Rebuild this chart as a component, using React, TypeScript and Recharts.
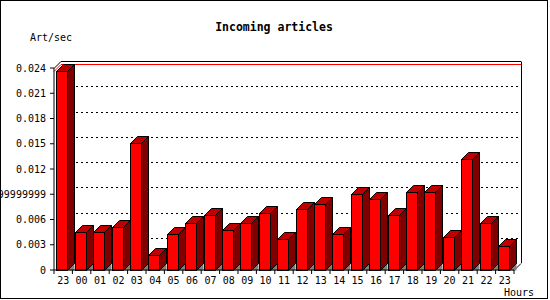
import { Bar, BarChart, CartesianGrid, ReferenceLine, XAxis, YAxis } from "recharts";

const hours = ["23", "00", "01", "02", "03", "04", "05", "06", "07", "08", "09", "10", "11", "12", "13", "14", "15", "16", "17", "18", "19", "20", "21", "22", "23"];
const artPerSec = [0.02364, 0.00448, 0.00448, 0.00507, 0.01505, 0.00175, 0.00424, 0.00555, 0.0065, 0.00472, 0.00555, 0.00674, 0.00365, 0.00728, 0.00781, 0.00424, 0.00899, 0.0084, 0.0065, 0.00923, 0.00923, 0.00389, 0.01319, 0.00555, 0.00282];
const yTicks = [0, 0.003, 0.006, 0.009, 0.012, 0.015, 0.018, 0.021, 0.024];
const yTickLabels = ["0", "0.003", "0.006", "0.0089999999999999", "0.012", "0.015", "0.018", "0.021", "0.024"];

const data = hours.map((hour, i) => ({ hour, value: artPerSec[i] }));
const maxValue = Math.max(...artPerSec);

// depth of the fake 3D effect
const D = 7;
const FONT = "'DejaVu Sans Mono', monospace";

function Bar3D(props: any) {
	const { x, y, height } = props;
	const w = 11;
	const fx = Math.round(x - 1.7) + 0.5;
	const top = Math.round(y) + 0.5;
	const base = Math.round(y + height) + 0.5;
	return (
		<g stroke="#000" strokeWidth={1}>
			<polygon
				points={`${fx + w},${base} ${fx + w + D},${base - D} ${fx + w + D},${base}`}
				fill="#808080"
				stroke="none"
			/>
			<polygon
				points={`${fx + w},${top} ${fx + w + D},${top - D} ${fx + w + D},${base - D} ${fx + w},${base}`}
				fill="#800000"
			/>
			<polygon
				points={`${fx},${top} ${fx + D},${top - D} ${fx + w + D},${top - D} ${fx + w},${top}`}
				fill="#c00000"
			/>
			<rect x={fx} y={top} width={w} height={base - top} fill="#ff0000" />
		</g>
	);
}

function GridLine(props: any) {
	const { x1, x2, y1, y, height } = props;
	const yy = Math.round(y1) + 0.5;
	const isTop = Math.abs(y1 - y) < 1;
	const isBottom = Math.abs(y1 - (y + height)) < 1;
	if (isTop) {
		return (
			<g stroke="#000" strokeWidth={1} fill="none">
				<line x1={x1} y1={yy} x2={x1 + D} y2={yy - D} />
				<line x1={x1 + D} y1={yy - D} x2={x2 + D} y2={yy - D} />
				<line x1={x2 + D + 0.5} y1={yy - D} x2={x2 + D + 0.5} y2={y + height - D} />
			</g>
		);
	}
	if (isBottom) {
		return <line x1={x2} y1={yy} x2={x2 + D} y2={yy - D} stroke="#000" strokeWidth={1} />;
	}
	return (
		<line
			x1={x1 + D}
			y1={yy - D}
			x2={x2 + D}
			y2={yy - D}
			stroke="#000"
			strokeWidth={1}
			strokeDasharray="2 3"
		/>
	);
}

function MaxLine(props: any) {
	const { x1, x2, y1 } = props;
	const yy = Math.round(y1) + 0.5;
	return (
		<g stroke="#ff0000" strokeWidth={1}>
			<line x1={x1} y1={yy} x2={x1 + D} y2={yy - D} />
			<line x1={x1 + D} y1={yy - D} x2={x2 + D} y2={yy - D} />
		</g>
	);
}

function HourTick(props: any) {
	const { x, y, payload, index, visibleTicksCount } = props;
	const half = payload && payload.offset ? payload.offset : 9.2;
	const axisY = y - 7;
	return (
		<g>
			<line x1={x - half} y1={axisY} x2={x - half} y2={axisY + 4} stroke="#000" />
			{index === visibleTicksCount - 1 && (
				<line x1={x + half} y1={axisY} x2={x + half} y2={axisY + 4} stroke="#000" />
			)}
			<text x={x} y={axisY + 14} textAnchor="middle" fontSize={10} fill="#000" fontFamily={FONT}>
				{payload.value}
			</text>
		</g>
	);
}

export default function App() {
	return (
		<div
			style={{
				position: "absolute",
				left: 0,
				top: 0,
				width: 550,
				height: 300,
				background: "#fff",
				fontFamily: FONT,
			}}
		>
			<BarChart
				width={550}
				height={300}
				data={data}
				margin={{ top: 68, right: 36, bottom: 0, left: 0 }}
			>
				<CartesianGrid vertical={false} horizontal={(p: any) => <GridLine {...p} />} />
				<ReferenceLine y={maxValue} zIndex={-1} shape={(p: any) => <MaxLine {...p} />} />
				<XAxis
					dataKey="hour"
					height={30}
					interval={0}
					tickLine={false}
					tickSize={4}
					tickMargin={3}
					stroke="#000"
					tick={(p: any) => <HourTick {...p} />}
				/>
				<YAxis
					width={54}
					domain={[0, 0.024]}
					ticks={yTicks}
					interval={0}
					tickSize={4}
					tickMargin={4}
					stroke="#000"
					tick={{ fontSize: 10, fill: "#000", fontFamily: FONT }}
					tickFormatter={(v: number) => yTickLabels[yTicks.indexOf(v)] ?? String(v)}
				/>
				<Bar dataKey="value" barSize={11} shape={(p: any) => <Bar3D {...p} />} isAnimationActive={false} />
			</BarChart>
			<svg
				width={550}
				height={300}
				style={{ position: "absolute", left: 0, top: 0, pointerEvents: "none" }}
			>
				<rect x={0.5} y={0.5} width={547} height={298} fill="none" stroke="#000" />
				<text x={274} y={31} textAnchor="middle" fontSize={11.5} fontWeight="bold" fontFamily={FONT}>
					Incoming articles
				</text>
				<text x={30} y={41} fontSize={10} fontFamily={FONT}>
					Art/sec
				</text>
				<text x={504} y={296} fontSize={10} fontFamily={FONT}>
					Hours
				</text>
			</svg>
		</div>
	);
}
